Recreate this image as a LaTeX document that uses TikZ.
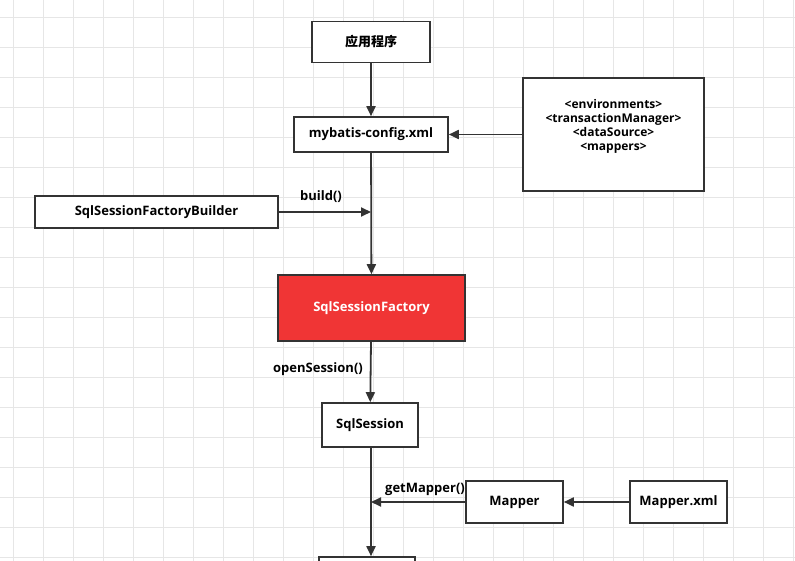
\documentclass[tikz,border=0pt]{standalone}
\usepackage{fontspec}
\setmainfont{Open Sans}
\newfontfamily\cjk{Noto Sans CJK SC}
\usetikzlibrary{arrows.meta}
\definecolor{gridc}{HTML}{E6E6E6}
\definecolor{redf}{HTML}{F03535}
\begin{document}
\begin{tikzpicture}[x=1pt,y=-1pt,
  box/.style={draw=black!80,line width=1.6pt,fill=white,inner sep=0pt,font=\bfseries\fontsize{13}{15}\selectfont},
  arr/.style={draw=black!80,line width=1.8pt,-{Triangle[length=10pt,width=9pt]}},
  lbl/.style={font=\bfseries\fontsize{13}{15}\selectfont}]
\useasboundingbox (0,0) rectangle (795,561);
\clip (0,0) rectangle (795,561);
\fill[white] (0,0) rectangle (795,561);
\foreach \x in {13,43,...,793} \draw[gridc,line width=0.8pt] (\x,0) -- (\x,561);
\foreach \y in {17,47,...,560} \draw[gridc,line width=0.8pt] (0,\y) -- (795,\y);
\node[box,minimum width=118pt,minimum height=41pt] (app) at (371,42) {\cjk\bfseries 应用程序};
\node[box,minimum width=154pt,minimum height=35pt] (cfg) at (371,134.5) {mybatis-config.xml};
\node[box,minimum width=181pt,minimum height=113pt,align=center,font=\bfseries\fontsize{12}{14}\selectfont] (env) at (613.5,134.5) {<environments>\\<transactionManager>\\<dataSource>\\<mappers>\\[6pt]};
\node[box,minimum width=243pt,minimum height=32pt] (bld) at (156.5,212) {SqlSessionFactoryBuilder};
\node[box,fill=redf,text=white,minimum width=187pt,minimum height=66pt] (fac) at (371.5,308) {SqlSessionFactory};
\node[box,minimum width=96pt,minimum height=44pt] (ses) at (370,425) {SqlSession};
\node[box,minimum width=97pt,minimum height=42pt] (map) at (514.5,502) {Mapper};
\node[box,minimum width=97pt,minimum height=42pt] (mx) at (678.5,502) {Mapper.xml};
\node[box,minimum width=96pt,minimum height=40pt] (bot) at (367,577) {};
\coordinate (j1) at (371,212);
\coordinate (j2) at (371,502);
\draw[arr] (app) -- (cfg);
\draw[arr] (env) -- (cfg);
\draw[arr] (cfg) -- (fac);
\draw[arr] (bld) -- (j1);
\node[lbl] (b) at (321,197) {build()};
\draw[arr] (fac.south -| ses.north) ++(1,0) -- (ses);
\node[lbl] (o) at (318,369) {openSession()};
\draw[arr] (ses.south -| j2) -- (bot.north -| j2);
\draw[arr] (map) -- (j2);
\draw[arr] (mx) -- (map);
\node[lbl] (g) at (425,489) {getMapper()};
\end{tikzpicture}
\end{document}
